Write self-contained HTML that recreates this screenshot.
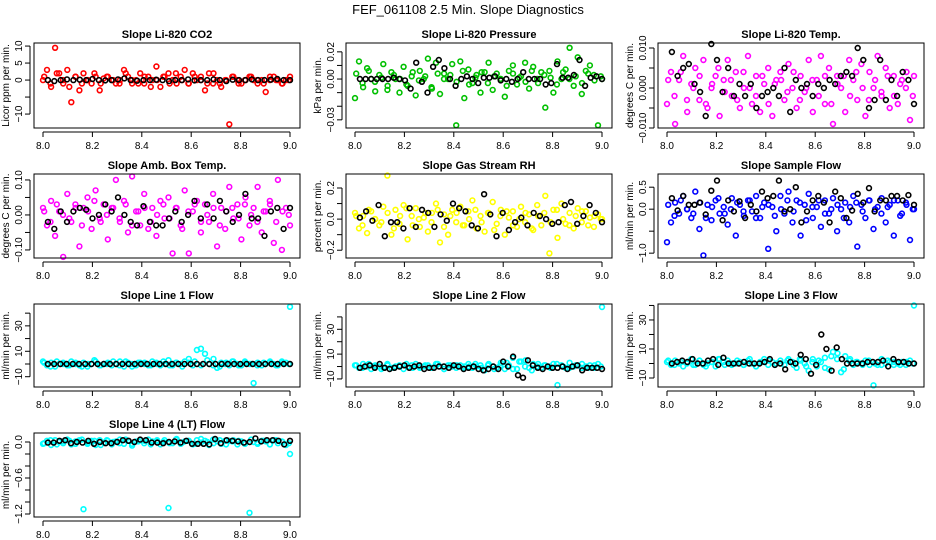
<!DOCTYPE html>
<html><head><meta charset="utf-8"><style>
html,body{margin:0;padding:0;background:#fff}
svg{display:block;font-family:"Liberation Sans",sans-serif}
</style></head><body>
<svg id="chart" width="936" height="540" viewBox="0 0 936 540">
<text x="468" y="14" text-anchor="middle" font-size="13">FEF_061108  2.5 Min. Slope Diagnostics</text>
</svg>
<script>
const xTickLabels = ["8.0","8.2","8.4","8.6","8.8","9.0"];
const xTickValues = [8.0,8.2,8.4,8.6,8.8,9.0];
const panelTitles = ["Slope Li-820 CO2","Slope Li-820 Pressure","Slope Li-820 Temp.","Slope Amb. Box Temp.","Slope Gas Stream RH","Slope Sample Flow","Slope Line 1 Flow","Slope Line 2 Flow","Slope Line 3 Flow","Slope Line 4 (LT) Flow"];
const yTitles = ["Licor ppm per min.","kPa per min.","degrees C per min.","degrees C per min.","percent per min.","ml/min per min.","ml/min per min.","ml/min per min.","ml/min per min.","ml/min per min."];
const seriesColors = ["#ff0000","#00c000","#ff00ff","#ff00ff","#ffff00","#0000ff","#00ffff","#00ffff","#00ffff","#00ffff"];
const yTicks = [[10,5,0,-5,-10],[0.02,0.01,0,-0.01,-0.02,-0.03],[0.01,0.005,0,-0.005,-0.01],[0.1,0.05,0,-0.05,-0.1],[0.2,0.1,0,-0.1,-0.2],[0.5,0,-0.5,-1.0],[40,30,20,10,0,-10],[40,30,20,10,0,-10],[40,30,20,10,0,-10],[0,-0.2,-0.4,-0.6,-0.8,-1.0,-1.2]];
const yTickLabels = [["10","5","0","","−10"],["0.02","","0.00","","","−0.03"],["0.010","","0.000","","−0.010"],["0.10","","0.00","","−0.10"],["0.2","","0.0","","−0.2"],["0.5","0.0","","−1.0"],["","30","","10","","−10"],["","30","","10","","−10"],["","30","","10","","−10"],["0.0","","","−0.6","","","−1.2"]];
const yLimits = [[-14.1,10.9],[-0.036,0.0265],[-0.01,0.01125],[-0.123,0.117],[-0.25,0.29],[-1.11,0.80],[-18.1,47.2],[-16.5,50.4],[-16.2,41],[-1.25,0.15]];

const colored1 = [0,3,-2,9.5,2,-1,3,-6.5,1,-3,2,0,-1,1,-3,0.5,1,0,-1,0,3,1,-1,0,2,-1,1,0,4,-2,1,2,0,-1,1,3,-1,2,0,1,-3,2,-1,0,-2,0,-13,1,0,-1,0,1,0,-1,0,-3.5,0,1,0,-1,0,1];
const colored1b = [1,-1,2,0,-2,1,-1,0,2,-1,1,0,-1,2,0,-1,1,-2,0,1,-1,2,0,-1,1,0,-1,2,-1,0,1,-1,0,1,0,-1,1,0,-1,0];
const black1 = [0,-0.3,0,0.2,0,0.1,0,0.3,0,-0.1,0,0.2,0.5,0,-0.2,0,0,0.1,0,-0.3,0,0,0.2,-0.1,0,0,0.2,0,-0.3,0.1,0,0,0.2,0,0,0.1,0.3,0,0];
const colored2 = [-0.014,0.013,-0.006,0.008,0,-0.009,0.003,0.011,-0.008,0.005,0,-0.01,0.009,-0.005,0.002,-0.012,0.006,0,0.015,-0.007,0.012,-0.011,0.004,0,0.011,-0.034,0.013,-0.014,0.007,-0.003,0.003,-0.01,0.005,0.012,-0.008,0.004,0,-0.013,0.006,0.01,-0.004,0.002,0.012,-0.007,0.009,0,0.005,-0.021,0.006,-0.01,0.013,0,0.007,0.023,-0.005,0.016,-0.011,0.006,0.01,0.003,-0.034,0];
const colored2b = [0.004,-0.003,0.006,-0.002,0.001,-0.005,0.003,0,-0.004,0.005,-0.001,0.002,-0.006,0.004,0,0.003,-0.002,0.006,-0.004,0.001,0.005,-0.003,0.002,0,-0.005,0.004,0.001,-0.002,0.006,-0.003,0.003,0.001,-0.004,0.005,0,0.002,-0.003,0.004,-0.001,0.002];
const black2 = [0,0,0,0,0,0,0.001,0,-0.001,-0.007,0.012,-0.002,-0.01,0.009,0.014,0.008,0,-0.005,0,0.002,0,-0.003,0.001,0.001,0.002,-0.001,0,-0.002,0,0.005,0,0,0,-0.004,-0.003,0.011,0.001,0.001,0.003,0.014,-0.005,0.001,0.002,0];
const colored3 = [-0.004,0.004,-0.009,0.002,0.008,-0.006,0.001,0.005,-0.003,0.007,-0.005,0,0.003,-0.007,0.002,0.007,-0.002,0.004,-0.005,0,0.008,-0.004,0.003,-0.006,0.001,0.005,-0.007,0.002,0.004,-0.003,0.006,0,-0.005,0.003,-0.001,0.007,-0.006,0.002,0.008,-0.004,0.005,-0.009,0.003,0,-0.006,0.007,0.002,-0.003,0.006,-0.007,0.004,0,0.008,-0.002,0.005,-0.005,0.003,-0.004,0.002,0,-0.008,0.003];
const colored3b = [0.002,-0.002,0.004,-0.003,0,0.003,-0.004,0.001,0.005,-0.001,0.002,-0.003,0.004,0,-0.002,0.003,-0.004,0.001,0.002,-0.001,0.004,-0.003,0,0.002,-0.002,0.003,-0.004,0.001,0.003,-0.002,0.004,0,-0.003,0.002,-0.001,0.003,-0.002,0.001,0.004,-0.002];
const black3 = [0.009,0.003,0.005,0.006,0.001,-0.001,-0.007,0.011,0.007,-0.001,0.005,-0.002,0.001,-0.002,0.001,-0.005,-0.002,-0.001,0,-0.002,0.005,-0.006,0.002,0,0.001,-0.002,0.001,0,0.002,0.001,0.003,0.004,0.003,0.010,0.007,-0.005,-0.003,0.007,-0.003,0.002,-0.002,0.004,0.002,-0.004];
const colored4 = [0.02,-0.03,0.04,-0.06,0.01,-0.12,0.06,-0.02,0.03,-0.09,0.02,0.05,-0.04,0.07,-0.01,0.03,-0.07,0.02,0.1,-0.02,0.04,-0.05,0.11,0.01,-0.03,0.06,-0.04,0.02,-0.06,0.04,-0.01,0.05,-0.11,0.02,-0.03,0.07,-0.11,0.01,0.04,-0.05,0.03,-0.02,0.06,-0.09,0.02,-0.04,0.08,-0.01,0.03,-0.07,0.05,-0.03,0.02,0.08,-0.05,0.01,0.04,-0.08,0.1,-0.1,0.02,-0.03];
const colored4b = [0.01,-0.02,0.03,0,-0.01,0.02,-0.03,0.01,0.04,-0.02,0,0.02,-0.01,0.03,-0.03,0.01,0.02,-0.02,0,0.03,-0.01,0.02,-0.04,0.01,0.03,-0.02,0,0.02,-0.03,0.01,0.02,-0.01,0.03,0,-0.02,0.01,0.03,-0.02,0.01,0];
const black4 = [-0.02,-0.04,0.01,-0.02,0.01,0.02,0.015,-0.01,0,0.03,0.01,0.05,0,-0.02,-0.03,0.025,-0.02,-0.03,-0.03,-0.01,0.01,-0.02,0,0.04,-0.01,0.03,-0.01,0.04,0.01,-0.02,0,0.06,-0.01,-0.01,-0.06,0.01,0.02,-0.04,0.02];
const colored5 = [0.04,-0.06,0.02,-0.09,0.05,0,-0.04,0.08,0.28,-0.1,0.06,-0.03,0.09,-0.13,0.02,0.07,-0.05,0.01,-0.08,0.04,0.1,-0.15,0.03,-0.1,0.06,-0.02,0.08,-0.04,0.05,0.12,-0.06,0.02,-0.08,0.04,0.11,-0.03,0.06,-0.1,0.01,0.05,-0.05,0.08,-0.02,0.03,-0.07,0.09,-0.04,0.15,-0.22,0.06,-0.12,0.1,-0.03,0.04,-0.06,0.07,-0.02,0.05,0.01,-0.05,0.03,0];
const colored5b = [0.02,-0.04,0.06,0,-0.02,0.04,-0.06,0.02,0.07,-0.04,0,0.04,-0.02,0.06,-0.05,0.02,0.04,-0.04,0,0.06,-0.02,0.04,-0.07,0.02,0.05,-0.04,0,0.04,-0.06,0.02,0.04,-0.02,0.06,0,-0.04,0.02,0.05,-0.04,0.02,0];
const black5 = [0.01,0.05,-0.01,0.09,-0.11,-0.02,-0.02,-0.06,0.07,-0.05,0.06,0.04,-0.05,0.03,-0.01,0.1,0.07,0.05,-0.04,-0.06,0.16,0.03,-0.11,0.04,-0.07,-0.02,0.01,-0.04,0.04,0.02,0,-0.03,-0.02,0.09,0.11,-0.03,0.02,0.09,0.04,-0.02];
const colored6 = [-0.75,-0.3,0.15,-0.1,0.3,0,-0.2,0.4,-0.45,-1.05,0.1,-0.25,0.2,-0.1,0.05,-0.35,0.25,-0.6,0.1,-0.15,0.2,-0.05,0.3,-0.2,0.15,-0.9,0.05,-0.5,0.3,-0.1,0.4,-0.3,0.2,-0.6,0.1,0.35,-0.2,0.05,-0.4,0.2,-0.1,0.25,-0.5,0,0.15,-0.3,0.3,-0.85,0.1,-0.2,0.2,-0.45,0.05,0.25,-0.3,0.1,-0.6,0.2,-0.1,0.15,-0.7,0];
const colored6b = [0.1,-0.15,0.2,0,-0.1,0.15,-0.2,0.05,0.25,-0.1,0,0.15,-0.05,0.2,-0.2,0.05,0.1,-0.15,0,0.2,-0.05,0.15,-0.25,0.05,0.2,-0.1,0,0.1,-0.2,0.05,0.15,-0.05,0.2,0,-0.1,0.05,0.2,-0.15,0.1,0];
const black6 = [0.25,-0.03,0.3,0.1,0.1,0.15,-0.12,0.42,0.65,-0.25,0.2,-0.05,0.18,-0.2,0.1,-0.05,0.4,0.25,0.3,0.65,-0.05,0,0.5,-0.3,-0.05,0.2,0.3,0.15,-0.3,0.4,0.25,-0.2,-0.03,0.35,0.15,0.48,-0.05,0.2,0.2,0.3,0.3,0.2,0.32,0.1];
const colored7 = [2,-1,1,-2,0,1,-1,2,0,-1,1,-2,0,2,-1,0,1,-1,0,2,-2,1,0,-1,1,0,-1,2,1,-1,0,3,-1,1,0,2,4,-1,11,12,8,0,-1,-3,1,0,-1,2,0,-1,1,0,-15,1,-1,0,1,0,-1,2,1,45];
const colored7b = [1,-2,2,0,-1,1,-2,0,3,-1,0,2,-1,2,-2,1,1,-1,0,2,-1,1,-2,1,2,-1,3,4,-2,1,2,-1,2,0,-1,1,2,-1,1,0];
const black7 = [0,0,0,0,0,0,0,0,0,0,0,0,0,0,0,0,0,0,0,0,0,0,0,0,0,0,0,0,0,0,0,0,0,0,0,0,0,0,0,0];
const colored8 = [1,-1,2,0,-2,1,0,-1,2,-1,0,1,-2,0,1,2,-1,0,1,-1,2,0,-2,1,0,-1,1,0,2,-1,0,1,-3,2,0,-1,3,-2,1,7,-2,4,0,-1,2,0,-1,1,0,2,-15,1,-1,3,0,1,-1,0,1,-1,2,48];
const colored8b = [1,-1,2,0,-2,1,-1,0,2,-1,0,1,-1,2,-2,1,1,-1,0,2,-1,1,-2,1,3,-2,4,5,-3,2,1,-1,2,0,-1,1,2,-1,1,0];
const black8 = [-1,0,1,-1,2,-1,-2,-1,0,1,-1,0,1,-2,-1,-1,0,0,-1,1,0,-2,-1,0,-2,-3,-2,0,-2,4,0,8,-7,-9,5,1,-1,-2,0,-1,-1,0,-2,0,1,-3,-1,-1,-1,-2];
const colored9 = [1,-1,2,0,-2,1,3,-1,2,-1,0,1,-2,3,1,2,-1,0,1,-1,2,0,-2,1,3,-1,1,0,2,-1,3,1,-3,2,0,-5,3,-2,1,4,-4,8,3,-6,5,2,-1,1,0,2,-1,-15,-1,3,0,1,-1,0,1,-1,2,40];
const colored9b = [2,-1,1,0,-1,2,-2,1,3,-1,0,2,-1,3,-2,1,2,-1,0,2,-1,3,-2,1,2,-3,5,7,-4,3,1,-1,2,0,-1,2,1,-1,1,0];
const black9 = [0,1,2,1,3,0,0,2,3,-1,4,0,0,0,1,0,0,0,1,3,-1,0,-4,1,0,6,3,-7,-1,20,10,-5,11,3,0,0,0,0,1,1,1,2,-2,3,1,1,0,0];
const colored10 = [-0.03,0.02,-0.05,0.03,0,-0.02,0.04,-0.04,0.01,0.03,-1.12,-0.03,0.02,-0.05,0.03,-0.01,0.02,-0.04,0.01,0.04,-0.03,0.02,-0.06,0.01,0.03,-0.02,0.04,0.01,0.01,-0.04,0.03,-1.10,-0.02,0.05,-0.03,0.01,0.02,-0.04,0.03,-0.01,0.02,-0.05,0.04,0.01,-0.03,0.02,0.02,0.03,-0.04,0.01,-0.02,-1.18,0,-0.03,0.02,0.01,-0.04,0.03,-0.02,0.01,-0.05,-0.2];
const colored10b = [-0.02,0.03,-0.04,0.01,0.02,-0.03,0.04,-0.01,0.02,-0.05,0.03,0,-0.02,0.04,-0.03,0.01,0.02,-0.04,0.03,0,-0.02,0.04,-0.01,0.02,-0.03,0.05,0,-0.02,0.03,-0.04,0.01,0.02,-0.03,0.04,-0.01,0.02,-0.04,0.03,0,-0.02];
const black10 = [-0.01,-0.01,0.02,0.03,-0.02,0,-0.01,0.02,-0.03,0,-0.02,-0.02,0,0.03,0.02,0,0.04,0.03,-0.01,-0.01,-0.02,0,0.01,-0.01,0.02,-0.03,-0.03,-0.03,-0.04,0.05,-0.02,0.03,0.02,0.01,-0.01,0,0.06,0.01,0.03,0.03,0.02,-0.04,0.02];

const coloredSeries = [colored1,colored2,colored3,colored4,colored5,colored6,colored7,colored8,colored9,colored10];
const coloredSeriesB = [colored1b,colored2b,colored3b,colored4b,colored5b,colored6b,colored7b,colored8b,colored9b,colored10b];
const blackSeries = [black1,black2,black3,black4,black5,black6,black7,black8,black9,black10];

const NS = "http://www.w3.org/2000/svg";
const svg = document.getElementById('chart');
const cols = [[34,300],[346,612],[658,924]];
const rows = [[43,128],[174,258],[304,387],[433,517]];
function mk(tag, attrs, parent){
  const e = document.createElementNS(NS, tag);
  for (const k in attrs) e.setAttribute(k, attrs[k]);
  (parent||svg).appendChild(e); return e;
}
for (let p = 0; p < 10; p++) {
  const [L,R] = cols[p % 3];
  const [T,B] = rows[Math.floor(p / 3)];
  const [ymin, ymax] = yLimits[p];
  const xs = v => (L + 9) + (v - 8) * ((R - 10) - (L + 9));
  const ys = v => B - (v - ymin) / (ymax - ymin) * (B - T);
  const g = mk('g', {});
  
  
  const ttl = mk('text', {x: (L + R) / 2, y: T - 5, 'text-anchor': 'middle', 'font-size': 11, 'font-weight': 'bold'}, g);
  ttl.textContent = panelTitles[p];
  
  
  const cg = mk('g', {fill: 'none', stroke: seriesColors[p], 'stroke-width': 1.6}, g);
  
  
  const cArr = coloredSeries[p];
  cArr.forEach((v, i) => {
    const x = 8 + i / (cArr.length - 1);
    const c = mk('circle', {cx: xs(x).toFixed(1), cy: ys(v).toFixed(1), r: 2.4}, cg);
    
    
  });
  const cArrB = coloredSeriesB[p];
  cArrB.forEach((v, i) => {
    const x = 8.005 + 0.99 * i / (cArrB.length - 1);
    const c = mk('circle', {cx: xs(x).toFixed(1), cy: ys(v).toFixed(1), r: 2.4}, cg);
    
    
  });
  const bg = mk('g', {fill: 'none', stroke: '#000', 'stroke-width': 1.6}, g);
  
  
  const bArr = blackSeries[p];
  bArr.forEach((v, i) => {
    const x = 8.02 + 0.98 * i / (bArr.length - 1);
    const c = mk('circle', {cx: xs(x).toFixed(1), cy: ys(v).toFixed(1), r: 2.4}, bg);
    
    
  });
  const fr = mk('rect', {x: L, y: T, width: R - L, height: B - T, fill: 'none', stroke: '#000', 'stroke-width': 1}, g);
  
  
  const xa = mk('g', {}, g);
  
  
  mk('line', {x1: xs(8), x2: xs(9), y1: B + 4, y2: B + 4, stroke: '#000'}, xa);
  xTickValues.forEach((v, i) => {
    mk('line', {x1: xs(v), x2: xs(v), y1: B + 4, y2: B + 9, stroke: '#000'}, xa);
    const t = mk('text', {x: xs(v), y: B + 21, 'text-anchor': 'middle', 'font-size': 10}, xa);
    t.textContent = xTickLabels[i];
    
    
  });
  const ya = mk('g', {}, g);
  
  
  const tk = yTicks[p];
  mk('line', {x1: L - 4, x2: L - 4, y1: ys(tk[0]), y2: ys(tk[tk.length - 1]), stroke: '#000'}, ya);
  tk.forEach((v, i) => {
    const y = ys(v);
    mk('line', {x1: L - 9, x2: L - 4, y1: y, y2: y, stroke: '#000'}, ya);
    if (yTickLabels[p][i]) {
      const t = mk('text', {x: 0, y: 0, 'text-anchor': 'middle', 'font-size': 10, transform: `translate(${L - 12},${y}) rotate(-90)`}, ya);
      t.textContent = yTickLabels[p][i];
      
      
    }
  });
  const yt = mk('text', {x: 0, y: 0, 'text-anchor': 'middle', 'font-size': 10, transform: `translate(${L - 25},${(T + B) / 2}) rotate(-90)`}, g);
  yt.textContent = yTitles[p];
  
  
}
</script>
</body></html>
